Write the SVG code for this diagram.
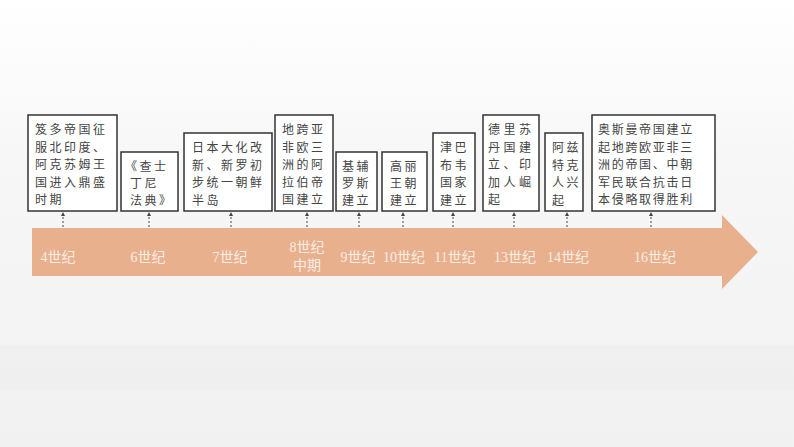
<svg xmlns="http://www.w3.org/2000/svg" width="794" height="447" viewBox="0 0 794 447">
<defs>
<linearGradient id="bg" x1="0" y1="0" x2="0" y2="1">
<stop offset="0" stop-color="#ffffff"/>
<stop offset="0.35" stop-color="#f7f7f7"/>
<stop offset="1" stop-color="#f1f1f1"/>
</linearGradient>
<marker id="ah" viewBox="0 0 6 6" refX="3" refY="3" markerWidth="4" markerHeight="4" orient="auto">
<path d="M0,0 L6,3 L0,6 z" fill="#444"/>
</marker>
<style>
.box{fill:#fff;stroke:#333;stroke-width:1.5}
.t{font-family:"Noto Sans CJK SC","Noto Sans CJK JP",sans-serif;font-size:12px;fill:#444;letter-spacing:2.5px}
.t10{letter-spacing:1.7px}
.lb{font-family:"Liberation Serif","Noto Sans CJK SC",serif;font-size:14px;fill:#fbeee4;text-anchor:middle}
.cn{stroke:#444;stroke-width:1;stroke-dasharray:2,2;fill:none}
</style>
</defs>
<rect width="794" height="447" fill="url(#bg)"/>
<g id="background" opacity="0.4">
<rect x="0" y="345" width="794" height="45" fill="#ececec"/>
</g>
<g id="timeline">
<path d="M32,228 L722,228 L722,215 L758,252 L722,289 L722,276 L32,276 Z" fill="#e9b08e"/>
<text class="lb" x="58" y="262">4世纪</text>
<text class="lb" x="148" y="262">6世纪</text>
<text class="lb" x="230" y="262">7世纪</text>
<text class="lb" x="307" y="252">8世纪</text>
<text class="lb" x="307" y="270">中期</text>
<text class="lb" x="358" y="262">9世纪</text>
<text class="lb" x="404" y="262">10世纪</text>
<text class="lb" x="455" y="262">11世纪</text>
<text class="lb" x="515" y="262">13世纪</text>
<text class="lb" x="568" y="262">14世纪</text>
<text class="lb" x="655" y="262">16世纪</text>
</g>
<g id="connectors">
<line class="cn" x1="63" y1="227" x2="63" y2="214" marker-end="url(#ah)"/>
<line class="cn" x1="149" y1="227" x2="149" y2="214" marker-end="url(#ah)"/>
<line class="cn" x1="231" y1="227" x2="231" y2="214" marker-end="url(#ah)"/>
<line class="cn" x1="307" y1="227" x2="307" y2="214" marker-end="url(#ah)"/>
<line class="cn" x1="359" y1="227" x2="359" y2="214" marker-end="url(#ah)"/>
<line class="cn" x1="403" y1="227" x2="403" y2="214" marker-end="url(#ah)"/>
<line class="cn" x1="453" y1="227" x2="453" y2="214" marker-end="url(#ah)"/>
<line class="cn" x1="514" y1="227" x2="514" y2="214" marker-end="url(#ah)"/>
<line class="cn" x1="567" y1="227" x2="567" y2="214" marker-end="url(#ah)"/>
<line class="cn" x1="651" y1="227" x2="651" y2="214" marker-end="url(#ah)"/>
</g>
<g id="n1">
<rect class="box" x="28" y="115" width="89" height="96"/>
<text class="t"><tspan x="35" y="134">笈多帝国征</tspan><tspan x="35" y="151.5">服北印度、</tspan><tspan x="35" y="169">阿克苏姆王</tspan><tspan x="35" y="186.5">国进入鼎盛</tspan><tspan x="35" y="204">时期</tspan></text>
</g>
<g id="n2">
<rect class="box" x="121" y="152" width="57" height="59"/>
<text class="t"><tspan x="125" y="171">《查士</tspan><tspan x="130" y="188">丁尼</tspan><tspan x="130" y="205">法典》</tspan></text>
</g>
<g id="n3">
<rect class="box" x="184" y="133" width="88" height="78"/>
<text class="t"><tspan x="192" y="152">日本大化改</tspan><tspan x="192" y="169.5">新、新罗初</tspan><tspan x="192" y="187">步统一朝鲜</tspan><tspan x="192" y="204.5">半岛</tspan></text>
</g>
<g id="n4">
<rect class="box" x="275" y="115" width="58" height="96"/>
<text class="t"><tspan x="282" y="134">地跨亚</tspan><tspan x="282" y="151.5">非欧三</tspan><tspan x="282" y="169">洲的阿</tspan><tspan x="282" y="186.5">拉伯帝</tspan><tspan x="282" y="204">国建立</tspan></text>
</g>
<g id="n5">
<rect class="box" x="336" y="152" width="41" height="59"/>
<text class="t"><tspan x="342" y="171">基辅</tspan><tspan x="342" y="188">罗斯</tspan><tspan x="342" y="205">建立</tspan></text>
</g>
<g id="n6">
<rect class="box" x="382" y="152" width="45" height="59"/>
<text class="t"><tspan x="390" y="171">高丽</tspan><tspan x="390" y="188">王朝</tspan><tspan x="390" y="205">建立</tspan></text>
</g>
<g id="n7">
<rect class="box" x="433" y="133" width="42" height="78"/>
<text class="t"><tspan x="440" y="152">津巴</tspan><tspan x="440" y="169.5">布韦</tspan><tspan x="440" y="187">国家</tspan><tspan x="440" y="204.5">建立</tspan></text>
</g>
<g id="n8">
<rect class="box" x="483" y="115" width="56" height="96"/>
<text class="t" style="letter-spacing:3.5px"><tspan x="488" y="134">德里苏</tspan><tspan x="488" y="151.5">丹国建</tspan><tspan x="488" y="169">立、印</tspan><tspan x="488" y="186.5">加人崛</tspan><tspan x="488" y="204">起</tspan></text>
</g>
<g id="n9">
<rect class="box" x="545" y="133" width="38" height="78"/>
<text class="t"><tspan x="552" y="152">阿兹</tspan><tspan x="552" y="169.5">特克</tspan><tspan x="552" y="187">人兴</tspan><tspan x="552" y="204.5">起</tspan></text>
</g>
<g id="n10">
<rect class="box" x="592" y="115" width="123" height="96"/>
<text class="t t10"><tspan x="598" y="134">奥斯曼帝国建立</tspan><tspan x="598" y="151.5">起地跨欧亚非三</tspan><tspan x="598" y="169">洲的帝国、中朝</tspan><tspan x="598" y="186.5">军民联合抗击日</tspan><tspan x="598" y="204">本侵略取得胜利</tspan></text>
</g>
</svg>
